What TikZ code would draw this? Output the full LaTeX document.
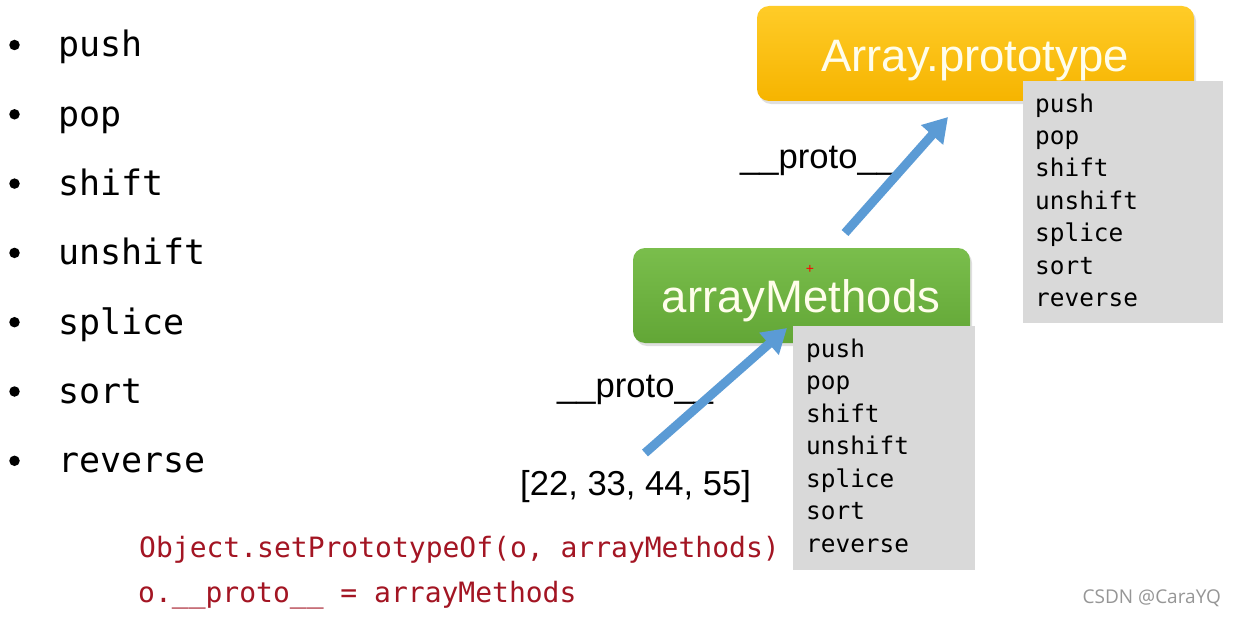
\documentclass[tikz,border=0pt]{standalone}
\usepackage{fontspec}
\setmainfont{Liberation Sans}
\setmonofont{DejaVu Sans Mono}
\newfontfamily\wmfont{Open Sans}
\usetikzlibrary{arrows.meta,shadows}
\definecolor{ybtop}{RGB}{255,204,40}
\definecolor{ybbot}{RGB}{246,180,0}
\definecolor{gbtop}{RGB}{122,190,76}
\definecolor{gbbot}{RGB}{98,166,54}
\definecolor{listgray}{RGB}{217,217,217}
\definecolor{arrowblue}{RGB}{91,155,213}
\definecolor{codered}{RGB}{163,21,35}
\definecolor{wmgray}{RGB}{150,150,150}
\definecolor{titlewhite}{RGB}{255,253,235}
\tikzset{
  listtxt/.style={anchor=base west, inner sep=0pt, font=\ttfamily\fontsize{35}{35}\selectfont},
  boxtxt/.style={anchor=base west, inner sep=0pt, font=\ttfamily\fontsize{24.4}{24}\selectfont},
  codetxt/.style={anchor=base west, inner sep=0pt, text=codered, font=\ttfamily\fontsize{28}{28}\selectfont},
  bul/.style={circle, fill=black, inner sep=0pt, minimum size=10.5pt},
  roundbox/.style={rounded corners=12pt, inner sep=0pt, drop shadow={opacity=0.25, shadow xshift=2pt, shadow yshift=-3pt}},
  ybox/.style={roundbox, top color=ybtop, bottom color=ybbot},
  gbox/.style={roundbox, top color=gbtop, bottom color=gbbot},
  graypanel/.style={fill=listgray, inner sep=0pt},
  titletxt/.style={anchor=base, inner sep=0pt, text=titlewhite, font=\fontsize{45.5}{45}\selectfont},
  protolbl/.style={anchor=base west, inner sep=0pt, font=\fontsize{34.6}{34}\selectfont},
  bluearrow/.style={draw=arrowblue, line width=9pt, -{Triangle[length=24pt,width=28pt]}}
}
\begin{document}
\begin{tikzpicture}[x=1pt,y=-1pt]
\useasboundingbox (0,0) rectangle (1235,618);
\fill[white] (0,0) rectangle (1235,618);

% left list
\foreach \w [count=\i] in {push,pop,shift,unshift,splice,sort,reverse}{
  \node[bul] (bul\i) at (14.5,{45+(\i-1)*69.3}) {};
  \node[listtxt] (item\i) at (58,{57+(\i-1)*69.3}) {\w};
}

% Array.prototype box
\node[ybox, minimum width=437pt, minimum height=95pt] (ap) at (975.5,53.5) {};
\node[titletxt] (aptxt) at (975,71) {Array.prototype};
\node[graypanel, minimum width=200pt, minimum height=242pt] (appanel) at (1123,202) {};
\foreach \w [count=\i] in {push,pop,shift,unshift,splice,sort,reverse}{
  \node[boxtxt] (apm\i) at (1035,{112+(\i-1)*32.4}) {\w};
}

% arrayMethods box
\node[gbox, minimum width=337pt, minimum height=95pt] (am) at (801.5,295.5) {};
\node[titletxt] (amtxt) at (801,312) {arrayMethods};
\node[inner sep=0pt, text=red, font=\fontsize{14}{14}\selectfont] (cursor) at (810,269) {+};
\node[graypanel, minimum width=182pt, minimum height=244pt] (ampanel) at (884,448) {};
\foreach \w [count=\i] in {push,pop,shift,unshift,splice,sort,reverse}{
  \node[boxtxt] (amm\i) at (806,{357+(\i-1)*32.5}) {\w};
}

% arrays and labels
\node[protolbl] (arr) at (520,495) {[22, 33, 44, 55]};
\node[protolbl] (proto1) at (557,397) {\_\_proto\_\_};
\node[protolbl] (proto2) at (740,168) {\_\_proto\_\_};

% arrows
\coordinate (a1s) at (645,453);
\coordinate (a1e) at (787,328);
\coordinate (a2s) at (845,233);
\coordinate (a2e) at (948,117);
\draw[bluearrow] (a1s) -- (a1e);
\draw[bluearrow] (a2s) -- (a2e);

% code lines
\node[codetxt] (code1) at (139,557) {Object.setPrototypeOf(o, arrayMethods)};
\node[codetxt] (code2) at (138,602) {o.\_\_proto\_\_ = arrayMethods};

% watermark
\node[anchor=base east, inner sep=0pt, text=wmgray, font=\wmfont\fontsize{19}{19}\selectfont] (wm) at (1221,603) {CSDN @CaraYQ};
\end{tikzpicture}
\end{document}
